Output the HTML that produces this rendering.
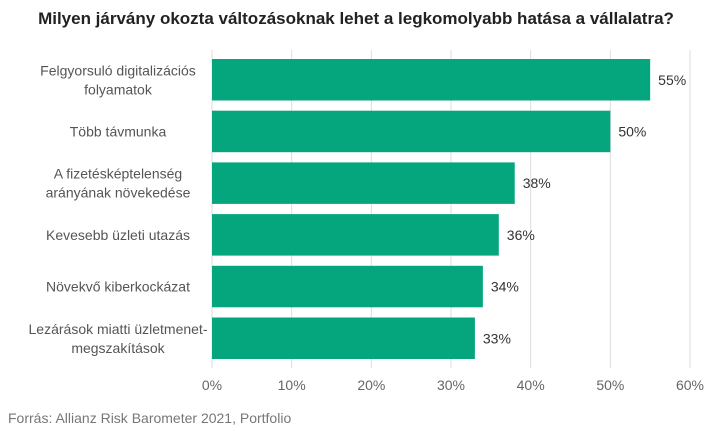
<!DOCTYPE html>
<html><head><meta charset="utf-8"><style>
body{margin:0;background:#fff;font-family:"Liberation Sans",sans-serif}
svg text{font-family:"Liberation Sans",sans-serif}
</style></head><body>
<svg width="713" height="430">
<text x="356" y="24" text-anchor="middle" font-size="17" font-weight="bold" fill="#222">Milyen járvány okozta változásoknak lehet a legkomolyabb hatása a vállalatra?</text>
<g id="grid"></g><g id="bars"></g><g id="labels"></g>
<text x="8" y="423" font-size="14" fill="#777">Forrás: Allianz Risk Barometer 2021, Portfolio</text>
</svg>
<script>
const categories=[["Felgyorsuló digitalizációs","folyamatok"],["Több távmunka"],["A fizetésképtelenség","arányának növekedése"],["Kevesebb üzleti utazás"],["Növekvő kiberkockázat"],["Lezárások miatti üzletmenet-","megszakítások"]];
const values=[55,50,38,36,34,33];
const ticks=[0,10,20,30,40,50,60];
const ns="http://www.w3.org/2000/svg";
const x=v=>212+v*(478/60);
const y0=55,band=51.7,bh=41.5;
const y=i=>y0+i*band;
function mk(t,a,p){const e=document.createElementNS(ns,t);for(const k in a)e.setAttribute(k,a[k]);document.getElementById(p).appendChild(e);return e;}
ticks.forEach(t=>{
 const l=mk('line',{x1:x(t),x2:x(t),y1:50,y2:368,stroke:'#ddd','stroke-width':1},'grid');
 
 
 const tx=mk('text',{x:x(t),y:390,'text-anchor':'middle','font-size':14,fill:'#666'},'grid');
 tx.textContent=t+'%';
 
 
});
values.forEach((v,i)=>{
 const r=mk('rect',{x:x(0),y:y(i)+4,width:x(v)-x(0),height:bh,fill:'#05a57e'},'bars');
 
 
 const cy=y(i)+4+bh/2;
 const vl=mk('text',{x:x(v)+8,y:cy+5,'font-size':14,fill:'#333'},'labels');
 vl.textContent=v+'%';
 
 
 const lines=categories[i];
 lines.forEach((s,j)=>{
  const c=mk('text',{x:118,y:cy+5+(j-(lines.length-1)/2)*19,'text-anchor':'middle','font-size':14,fill:'#555'},'labels');
  c.textContent=s;
  
  
 });
});
</script>
</body></html>
